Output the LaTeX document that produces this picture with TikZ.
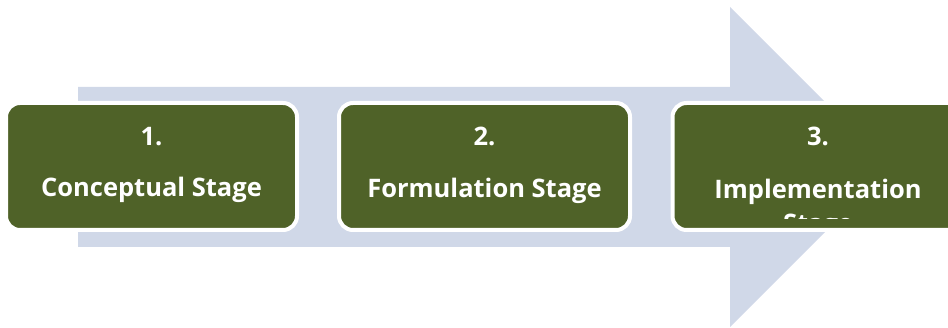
\documentclass[tikz,border=0pt]{standalone}
\usepackage{fontspec}
\setmainfont{Open Sans}
\definecolor{arrowfill}{HTML}{D0D8E8}
\definecolor{stagegreen}{HTML}{4F6228}
\tikzset{
  stagebox/.style={rectangle, rounded corners=14pt, draw=white, line width=4pt,
    fill=stagegreen, minimum width=291pt, minimum height=127pt, inner sep=0pt},
  stagetext/.style={anchor=base, text=white, font=\fontsize{25.5}{33}\selectfont\bfseries,
    inner sep=0pt}
}
\begin{document}
\begin{tikzpicture}[x=1pt,y=-1pt]
  \useasboundingbox (0,0) rectangle (948,328);
  \clip (0,0) rectangle (948,328);
  % big arrow behind the stages
  \fill[arrowfill] (78,87) -- (730,87) -- (730,7) -- (890,167)
    -- (730,327) -- (730,247) -- (78,247) -- cycle;
  % stages
  \node[stagebox] (s1) at (151.5,166.5) {};
  \node[stagebox] (s2) at (484.5,166.5) {};
  \node[stagebox] (s3) at (818,166.5) {};
  \node[stagetext] (n1) at (151.5,146) {1.};
  \node[stagetext] (t1) at (151.5,197) {Conceptual Stage};
  \node[stagetext] (n2) at (484.5,146) {2.};
  \node[stagetext] (t2) at (484.5,198) {Formulation Stage};
  \node[stagetext] (n3) at (818,146) {3.};
  \node[stagetext] (t3) at (818,199) {Implementation};
  % second line runs out of the box
  \begin{scope}
    \clip (s3.north west) rectangle ([yshift=13pt]s3.south east);
    \node[stagetext] (t3b) at (818,233) {Stage};
  \end{scope}
\end{tikzpicture}
\end{document}
